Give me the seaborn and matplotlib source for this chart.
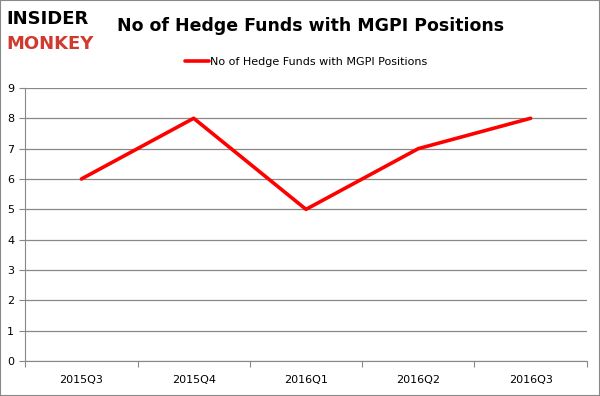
import matplotlib
matplotlib.use("Agg")
import matplotlib.pyplot as plt
import seaborn as sns
import pandas as pd

quarters = ["2015Q3", "2015Q4", "2016Q1", "2016Q2", "2016Q3"]
funds = [6, 8, 5, 7, 8]
series_name = "No of Hedge Funds with MGPI Positions"

df = pd.DataFrame({"quarter": quarters, "funds": funds})

sns.set_style("white")
plt.rcParams["font.family"] = ["DejaVu Sans"]

fig = plt.figure(figsize=(6, 3.96), dpi=100)
ax = fig.add_axes([0.042, 0.088, 0.936, 0.69])

sns.lineplot(data=df, x="quarter", y="funds", color="#ff0000", linewidth=2.6,
             ax=ax, label=series_name, sort=False)

ax.set_xlim(-0.5, len(quarters) - 0.5)
ax.set_ylim(0, 9)
ax.set_yticks(range(0, 10))
ax.yaxis.grid(True, color="#888888", linewidth=0.9)
ax.set_axisbelow(True)
ax.set_xlabel("")
ax.set_ylabel("")
for s in ["top", "right"]:
    ax.spines[s].set_visible(False)
for s in ["left", "bottom"]:
    ax.spines[s].set_color("#888888")
ax.set_xticks([i - 0.5 for i in range(len(quarters) + 1)], minor=False)
ax.set_xticklabels([])
ax.set_xticks(range(len(quarters)), minor=True)
ax.set_xticklabels(quarters, minor=True, fontsize=8, color="black")
ax.tick_params(axis="x", which="major", bottom=True, length=4, color="#888888",
               direction="out")
ax.tick_params(axis="x", which="minor", bottom=True, length=0, pad=10)
ax.tick_params(axis="y", left=True, length=4, color="#888888", labelsize=8,
               labelcolor="black", pad=4)

ax.legend(loc="center", bbox_to_anchor=(0.5, 1.095), frameon=False,
          fontsize=8, handlelength=2.2, handletextpad=0.1, labelcolor="black")

fig.text(0.01, 0.953, "INSIDER", fontsize=13, fontweight="heavy", color="black",
         va="center", ha="left")
fig.text(0.01, 0.89, "MONKEY", fontsize=13, fontweight="heavy", color="#d03a2f",
         va="center", ha="left")
fig.text(0.195, 0.935, series_name, fontsize=12.5, fontweight="bold", color="black",
         va="center", ha="left")

fig.patches.append(plt.Rectangle((0, 0), 1, 1, transform=fig.transFigure,
                                 fill=False, edgecolor="#888888", linewidth=1.5))

fig.savefig("out.png", dpi=100)
